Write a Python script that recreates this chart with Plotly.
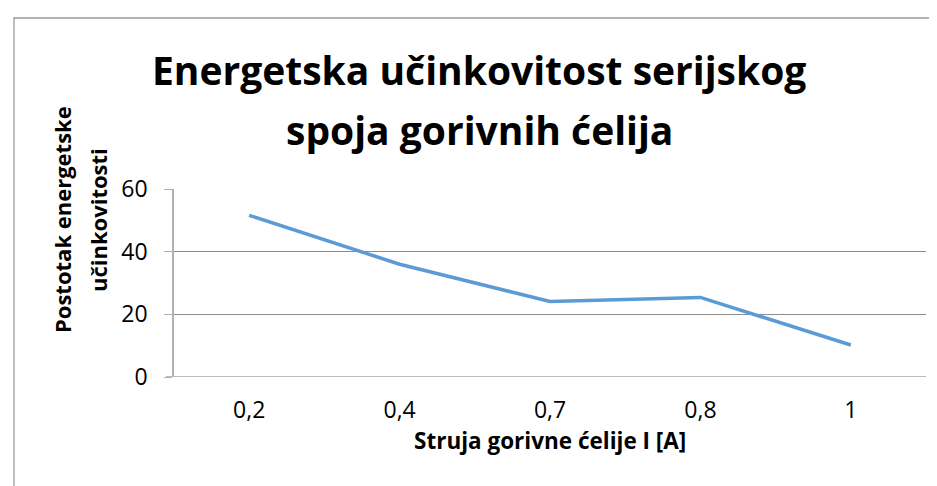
import plotly.graph_objects as go

categories = ["0,2", "0,4", "0,7", "0,8", "1"]
efficiency = [51.6, 36.0, 24.1, 25.4, 10.2]
y_ticks = [0, 20, 40, 60]

title_lines = ["Energetska učinkovitost serijskog", "spoja gorivnih ćelija"]
x_title = "Struja gorivne ćelije I [A]"
y_title_lines = ["Postotak energetske", "učinkovitosti"]

W, H = 937, 486
L, R, T, B = 166, 19, 181, 117
pw, ph = W - L - R, H - T - B

def px(x):
    return (x - L) / pw

def py(y):
    return (H - B - y) / ph

font_family = "Open Sans, Noto Sans, sans-serif"

fig = go.Figure()
fig.add_trace(go.Scatter(
    x=categories, y=efficiency, mode="lines",
    line=dict(color="#5B9BD5", width=3.5),
    hoverinfo="skip", showlegend=False,
))

fig.update_layout(
    width=W, height=H,
    margin=dict(l=L, r=R, t=T, b=B, pad=0),
    paper_bgcolor="white", plot_bgcolor="white",
    font=dict(family=font_family, color="#000000"),
    showlegend=False,
)

fig.update_xaxes(
    type="category",
    showgrid=False, zeroline=False, showline=False,
    ticks="",
    tickfont=dict(size=23, color="#000000"),
    ticklabelstandoff=17,
    range=[-0.5, 4.5],
)
fig.update_yaxes(
    range=[0, 60], tickvals=y_ticks,
    showgrid=True, gridcolor="#8c8c8c", gridwidth=1.2,
    zeroline=False,
    showline=True, linecolor="#b0b0b0", linewidth=1.5,
    ticks="outside", ticklen=8, tickcolor="#b0b0b0", tickwidth=1.2,
    tickfont=dict(size=23, color="#000000"),
    ticklabelstandoff=12,
)

# baseline of the category axis, extending over the tick mark
fig.add_shape(type="line", xref="paper", yref="y",
              x0=px(158), x1=1, y0=0, y1=0,
              line=dict(color="#a6a6a6", width=1.5), layer="below")

# chart title, two lines
for text, yc in zip(title_lines, [61, 121]):
    fig.add_annotation(
        text="<b>" + text + "</b>",
        xref="paper", yref="paper", x=px(471), y=py(yc),
        xanchor="center", yanchor="middle", showarrow=False,
        font=dict(size=39, family=font_family, color="#000000"),
    )

# y axis title, two rotated lines
for text, xc in zip(y_title_lines, [54, 90]):
    fig.add_annotation(
        text="<b>" + text + "</b>", textangle=-90,
        xref="paper", yref="paper", x=px(xc), y=py(212),
        xanchor="center", yanchor="middle", showarrow=False,
        font=dict(size=22, family=font_family, color="#000000"),
    )

# x axis title
fig.add_annotation(
    text="<b>" + x_title + "</b>",
    xref="paper", yref="paper", x=px(542), y=py(432),
    xanchor="center", yanchor="middle", showarrow=False,
    font=dict(size=22.5, family=font_family, color="#000000"),
)

# chart area border (top and left edges visible)
fig.add_shape(type="rect", xref="paper", yref="paper",
              x0=px(6), x1=px(960), y0=py(510), y1=py(10),
              line=dict(color="#9a9a9a", width=1.3), layer="below")

fig.write_html("out.html")
